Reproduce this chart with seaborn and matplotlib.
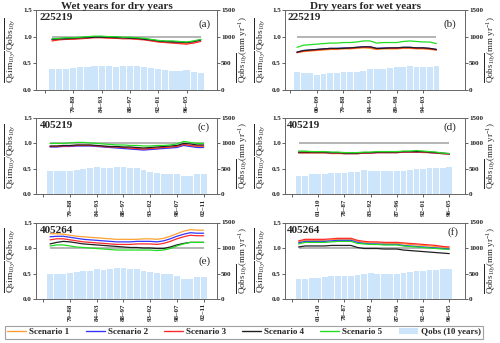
import numpy as np
import matplotlib
matplotlib.use('Agg')
import matplotlib.pyplot as plt
import seaborn as sns
from matplotlib.lines import Line2D
from matplotlib.patches import Patch

sns.set_theme(style='ticks')
plt.rcParams['font.family'] = ['Liberation Serif', 'DejaVu Serif']
plt.rcParams['mathtext.fontset'] = 'custom'
plt.rcParams['mathtext.rm'] = 'Liberation Serif'
plt.rcParams['mathtext.it'] = 'Liberation Serif:italic'
plt.rcParams['mathtext.bf'] = 'Liberation Serif:bold'

# ---- data ----
scenario_names = ['Scenario 1', 'Scenario 2', 'Scenario 3', 'Scenario 4', 'Scenario 5']
scenario_colors = ['#ffa030', '#3535ff', '#ff2a2a', '#202020', '#22dd22']
bar_color = '#cce5fa'
ref_value = 1.0

# (a) 225219, wet years for dry years
a_qobs = [385, 395, 400, 405, 425, 440, 445, 445, 445, 440, 445, 455, 445, 440, 420, 395, 380, 365, 365, 370, 340, 310]
a_s1 = [0.93, 0.95, 0.96, 0.96, 0.97, 0.98, 0.99, 0.99, 0.98, 0.98, 0.97, 0.97, 0.96, 0.95, 0.93, 0.91, 0.90, 0.89, 0.88, 0.87, 0.89, 0.92]
a_s2 = [0.95, 0.96, 0.97, 0.97, 0.98, 0.99, 1.00, 1.00, 0.99, 0.99, 0.98, 0.98, 0.97, 0.96, 0.94, 0.92, 0.91, 0.91, 0.90, 0.89, 0.91, 0.94]
a_s3 = [0.92, 0.94, 0.95, 0.95, 0.96, 0.97, 0.98, 0.98, 0.97, 0.97, 0.96, 0.96, 0.95, 0.94, 0.92, 0.90, 0.89, 0.88, 0.87, 0.86, 0.88, 0.91]
a_s4 = [0.95, 0.96, 0.96, 0.97, 0.98, 0.98, 0.99, 0.99, 0.99, 0.98, 0.98, 0.97, 0.97, 0.95, 0.94, 0.92, 0.91, 0.90, 0.90, 0.89, 0.91, 0.94]
a_s5 = [0.96, 0.97, 0.98, 0.98, 0.99, 1.00, 1.01, 1.01, 1.00, 1.00, 0.99, 0.99, 0.98, 0.97, 0.95, 0.93, 0.92, 0.92, 0.91, 0.90, 0.92, 0.95]
a_ticks = ['', '79–88', '84–93', '88–97', '92–01', '96–05']

# (b) 225219, dry years for wet years
b_qobs = [340, 310, 310, 290, 305, 325, 310, 330, 345, 335, 350, 385, 390, 400, 405, 425, 440, 445, 440, 440, 440, 445]
b_s1 = [0.70, 0.72, 0.73, 0.74, 0.75, 0.76, 0.76, 0.77, 0.77, 0.78, 0.79, 0.78, 0.76, 0.77, 0.77, 0.77, 0.78, 0.78, 0.77, 0.77, 0.76, 0.75]
b_s2 = [0.71, 0.74, 0.75, 0.76, 0.77, 0.78, 0.78, 0.79, 0.79, 0.80, 0.81, 0.81, 0.78, 0.79, 0.79, 0.79, 0.80, 0.80, 0.79, 0.79, 0.78, 0.76]
b_s3 = [0.70, 0.73, 0.74, 0.75, 0.76, 0.77, 0.77, 0.78, 0.78, 0.79, 0.80, 0.80, 0.77, 0.78, 0.78, 0.78, 0.79, 0.79, 0.78, 0.78, 0.77, 0.75]
b_s4 = [0.71, 0.74, 0.75, 0.76, 0.77, 0.78, 0.78, 0.78, 0.79, 0.80, 0.81, 0.81, 0.78, 0.78, 0.79, 0.79, 0.80, 0.80, 0.79, 0.79, 0.78, 0.76]
b_s5 = [0.80, 0.84, 0.85, 0.86, 0.87, 0.88, 0.88, 0.89, 0.89, 0.90, 0.92, 0.92, 0.88, 0.89, 0.89, 0.89, 0.91, 0.92, 0.91, 0.90, 0.90, 0.87]
b_ticks = ['', '00–09', '79–88', '84–93', '89–98', '94–03']

# (c) 405219, wet years for dry years
c_qobs = [455, 460, 460, 465, 480, 500, 510, 530, 525, 525, 535, 540, 525, 515, 480, 445, 420, 400, 400, 400, 355, 355, 400, 390]
c_s1 = [0.94, 0.94, 0.95, 0.95, 0.96, 0.96, 0.96, 0.95, 0.94, 0.93, 0.92, 0.91, 0.90, 0.89, 0.88, 0.89, 0.90, 0.91, 0.92, 0.93, 0.97, 0.95, 0.94, 0.94]
c_s2 = [0.93, 0.93, 0.94, 0.94, 0.95, 0.95, 0.95, 0.94, 0.93, 0.92, 0.91, 0.90, 0.89, 0.88, 0.87, 0.88, 0.89, 0.90, 0.91, 0.92, 0.96, 0.94, 0.92, 0.92]
c_s3 = [0.94, 0.94, 0.95, 0.95, 0.96, 0.96, 0.96, 0.95, 0.94, 0.93, 0.93, 0.92, 0.91, 0.90, 0.89, 0.90, 0.91, 0.92, 0.93, 0.94, 0.98, 0.96, 0.95, 0.95]
c_s4 = [0.95, 0.95, 0.96, 0.96, 0.97, 0.97, 0.97, 0.96, 0.95, 0.94, 0.94, 0.93, 0.93, 0.92, 0.91, 0.92, 0.93, 0.94, 0.95, 0.96, 1.00, 0.99, 0.97, 0.97]
c_s5 = [1.00, 1.00, 1.00, 1.01, 1.02, 1.02, 1.01, 1.00, 0.99, 0.98, 0.97, 0.97, 0.96, 0.96, 0.95, 0.95, 0.96, 0.96, 0.97, 0.99, 1.04, 1.02, 1.00, 1.00]
c_ticks = ['', '79–88', '84–93', '88–97', '93–02', '98–07', '02–11']

# (d) 405219, dry years for wet years
d_qobs = [355, 360, 390, 390, 390, 410, 420, 425, 430, 445, 470, 465, 450, 455, 460, 465, 465, 480, 500, 500, 520, 515, 525, 535]
d_s1 = [0.81, 0.81, 0.81, 0.81, 0.81, 0.80, 0.80, 0.80, 0.80, 0.80, 0.81, 0.81, 0.82, 0.82, 0.82, 0.82, 0.83, 0.83, 0.83, 0.82, 0.82, 0.81, 0.80, 0.79]
d_s2 = [0.82, 0.82, 0.82, 0.82, 0.82, 0.81, 0.81, 0.80, 0.80, 0.80, 0.81, 0.81, 0.82, 0.82, 0.82, 0.82, 0.83, 0.83, 0.83, 0.83, 0.82, 0.81, 0.80, 0.79]
d_s3 = [0.82, 0.82, 0.82, 0.82, 0.82, 0.81, 0.81, 0.80, 0.80, 0.80, 0.81, 0.81, 0.82, 0.82, 0.82, 0.82, 0.83, 0.83, 0.83, 0.83, 0.82, 0.81, 0.80, 0.79]
d_s4 = [0.83, 0.83, 0.83, 0.83, 0.83, 0.82, 0.82, 0.81, 0.81, 0.81, 0.82, 0.82, 0.83, 0.83, 0.83, 0.83, 0.84, 0.84, 0.84, 0.84, 0.83, 0.82, 0.81, 0.80]
d_s5 = [0.85, 0.85, 0.84, 0.84, 0.84, 0.83, 0.83, 0.82, 0.82, 0.82, 0.83, 0.83, 0.84, 0.84, 0.84, 0.84, 0.85, 0.85, 0.86, 0.85, 0.84, 0.83, 0.81, 0.80]
d_ticks = ['', '01–10', '78–87', '83–92', '87–96', '92–01', '96–05']

# (e) 405264, wet years for dry years
e_qobs = [490, 495, 490, 505, 530, 545, 550, 580, 575, 590, 600, 600, 590, 580, 555, 520, 515, 490, 485, 445, 400, 395, 425, 425]
e_s1 = [1.28, 1.28, 1.27, 1.25, 1.23, 1.22, 1.21, 1.20, 1.19, 1.18, 1.17, 1.17, 1.17, 1.17, 1.18, 1.18, 1.17, 1.19, 1.23, 1.28, 1.33, 1.36, 1.35, 1.35]
e_s2 = [1.22, 1.23, 1.23, 1.21, 1.19, 1.17, 1.16, 1.15, 1.14, 1.13, 1.12, 1.12, 1.12, 1.13, 1.13, 1.13, 1.12, 1.14, 1.18, 1.23, 1.27, 1.30, 1.29, 1.29]
e_s3 = [1.16, 1.18, 1.18, 1.16, 1.14, 1.12, 1.11, 1.10, 1.09, 1.08, 1.07, 1.07, 1.07, 1.08, 1.08, 1.08, 1.07, 1.09, 1.13, 1.18, 1.22, 1.25, 1.24, 1.24]
e_s4 = [1.08, 1.11, 1.13, 1.12, 1.10, 1.08, 1.07, 1.06, 1.05, 1.04, 1.03, 1.02, 1.01, 1.01, 1.00, 1.00, 0.99, 0.99, 1.02, 1.06, 1.09, 1.11, 1.11, 1.11]
e_s5 = [1.04, 1.06, 1.06, 1.04, 1.02, 1.01, 1.00, 0.99, 0.98, 0.97, 0.96, 0.96, 0.96, 0.96, 0.96, 0.96, 0.95, 0.96, 0.99, 1.04, 1.08, 1.11, 1.11, 1.11]
e_ticks = ['', '79–88', '84–93', '88–97', '93–02', '98–07', '02–11']

# (f) 405264, dry years for wet years
f_qobs = [390, 385, 420, 420, 425, 455, 445, 445, 445, 480, 500, 510, 500, 490, 495, 490, 510, 530, 545, 555, 575, 570, 585, 595]
f_s1 = [1.12, 1.15, 1.15, 1.15, 1.15, 1.16, 1.17, 1.17, 1.17, 1.13, 1.11, 1.10, 1.10, 1.09, 1.09, 1.09, 1.08, 1.07, 1.06, 1.05, 1.04, 1.03, 1.01, 1.00]
f_s2 = [1.10, 1.13, 1.13, 1.13, 1.13, 1.14, 1.15, 1.15, 1.15, 1.11, 1.09, 1.08, 1.08, 1.07, 1.07, 1.07, 1.05, 1.04, 1.03, 1.02, 1.01, 1.00, 0.99, 0.98]
f_s3 = [1.14, 1.17, 1.17, 1.17, 1.17, 1.18, 1.19, 1.19, 1.19, 1.15, 1.13, 1.12, 1.12, 1.11, 1.11, 1.11, 1.10, 1.09, 1.08, 1.07, 1.06, 1.05, 1.03, 1.02]
f_s4 = [1.02, 1.04, 1.04, 1.04, 1.04, 1.05, 1.05, 1.05, 1.05, 1.01, 0.99, 0.99, 0.99, 0.98, 0.98, 0.98, 0.96, 0.95, 0.94, 0.93, 0.92, 0.91, 0.90, 0.89]
f_s5 = [1.08, 1.11, 1.11, 1.11, 1.11, 1.12, 1.13, 1.13, 1.13, 1.09, 1.08, 1.07, 1.07, 1.06, 1.06, 1.06, 1.04, 1.03, 1.02, 1.01, 1.00, 0.99, 0.98, 0.97]
f_ticks = ['', '01–10', '78–87', '83–92', '87–96', '92–01', '96–05']

left_label = r'$\overline{\mathrm{Qsim}_{10y}}/\overline{\mathrm{Qobs}_{10y}}$'
right_label = r'$\overline{\mathrm{Qobs}_{10y}}(\mathrm{mm\ yr^{-1}})$'
spine_color = '#666666'

fig = plt.figure(figsize=(5.0, 3.43), dpi=100)
W, H = 500.0, 343.0


def panel(px, station, tag, tag_pos, qobs, scen, ticks, xlim):
    x0, top, x1, bot = px
    ax = fig.add_axes([x0 / W, 1 - bot / H, (x1 - x0) / W, (bot - top) / H])
    ax2 = ax.twinx()
    pos = np.arange(1, len(qobs) + 1)
    sns.barplot(x=pos, y=qobs, native_scale=True, color=bar_color, saturation=1,
                width=0.88, ax=ax2, edgecolor='none')
    ax.hlines(ref_value, pos[0], pos[-1], color='#a0a0a0', lw=1.1)
    for vals, col in zip(scen, scenario_colors):
        sns.lineplot(x=pos, y=vals, color=col, lw=0.9, ax=ax)
    ax.set_zorder(ax2.get_zorder() + 1)
    ax.patch.set_visible(False)

    ax.set_xlim(*xlim)
    ax.set_ylim(0, 1.5)
    ax2.set_ylim(0, 1500)
    ax.set_yticks([0, 0.5, 1.0, 1.5])
    ax2.set_yticks([0, 500, 1000, 1500])
    ax.set_xticks(np.arange(0, 4 * len(ticks), 4))
    ax.set_xticklabels(ticks, rotation=90)
    for a in (ax, ax2):
        a.tick_params(labelsize=5, length=2, width=0.5, pad=1, colors='#222222')
        for lab in a.get_xticklabels() + a.get_yticklabels():
            lab.set_fontweight('bold')
        for s in a.spines.values():
            s.set_color(spine_color)
            s.set_linewidth(0.6)
    ax2.set_xlabel('')
    ax.set_xlabel('')
    w = x1 - x0
    # inner edges of the axis titles, in pixels from the spines
    ax.set_ylabel(left_label, fontsize=6.8)
    ax.yaxis.set_label_coords(-17.5 / w, 0.5)
    ax2.set_ylabel(right_label, fontsize=6.5, rotation=90)
    ax2.yaxis.set_label_coords(1 + 18.5 / w, 0.5)

    ax.text(0.02 if x0 < 100 else 0.012, 0.9, station, transform=ax.transAxes,
            fontsize=8, fontweight='bold', va='center', ha='left')
    ax.text(tag_pos[0], tag_pos[1], tag, transform=ax.transAxes,
            fontsize=8, va='center', ha='center')
    return ax


panel((36, 10, 217, 90), '225219', '(a)', (0.93, 0.825), a_qobs,
      [a_s1, a_s2, a_s3, a_s4, a_s5], a_ticks, (-1.27, 24.3))
panel((285, 10, 465, 90), '225219', '(b)', (0.917, 0.825), b_qobs,
      [b_s1, b_s2, b_s3, b_s4, b_s5], b_ticks, (-0.8, 26.3))
panel((36, 118, 217, 194.3), '405219', '(c)', (0.925, 0.885), c_qobs,
      [c_s1, c_s2, c_s3, c_s4, c_s5], c_ticks, (-1.1, 26.0))
panel((285, 118, 465, 194.3), '405219', '(d)', (0.917, 0.885), d_qobs,
      [d_s1, d_s2, d_s3, d_s4, d_s5], d_ticks, (-1.07, 26.4))
panel((36, 222.5, 217, 299), '405264', '(e)', (0.93, 0.5), e_qobs,
      [e_s1, e_s2, e_s3, e_s4, e_s5], e_ticks, (-1.1, 26.0))
panel((285, 222.5, 465, 299), '405264', '(f)', (0.933, 0.87), f_qobs,
      [f_s1, f_s2, f_s3, f_s4, f_s5], f_ticks, (-1.07, 26.4))

fig.text(116.7 / W, 1 - 6.5 / H, 'Wet years for dry years', fontsize=8,
         fontweight='bold', ha='center', va='center')
fig.text(366 / W, 1 - 6.5 / H, 'Dry years for wet years', fontsize=8,
         fontweight='bold', ha='center', va='center')

handles = [Line2D([], [], color=c, lw=1) for c in scenario_colors]
handles.append(Patch(facecolor=bar_color, edgecolor='none'))
labels = scenario_names + ['Qobs (10 years)']
leg = fig.legend(handles, labels, loc='lower left', ncol=6, mode='expand',
                 bbox_to_anchor=(5 / W, 1 - 338.5 / H, 478 / W, 15 / H),
                 prop={'size': 6.5, 'weight': 'bold'}, frameon=True,
                 fancybox=False, edgecolor='#888888', handlelength=2.1,
                 handletextpad=0.35, borderpad=0.25, borderaxespad=0,
                 columnspacing=1.0)
leg.get_frame().set_linewidth(0.8)

fig.savefig('out.png', dpi=100)
